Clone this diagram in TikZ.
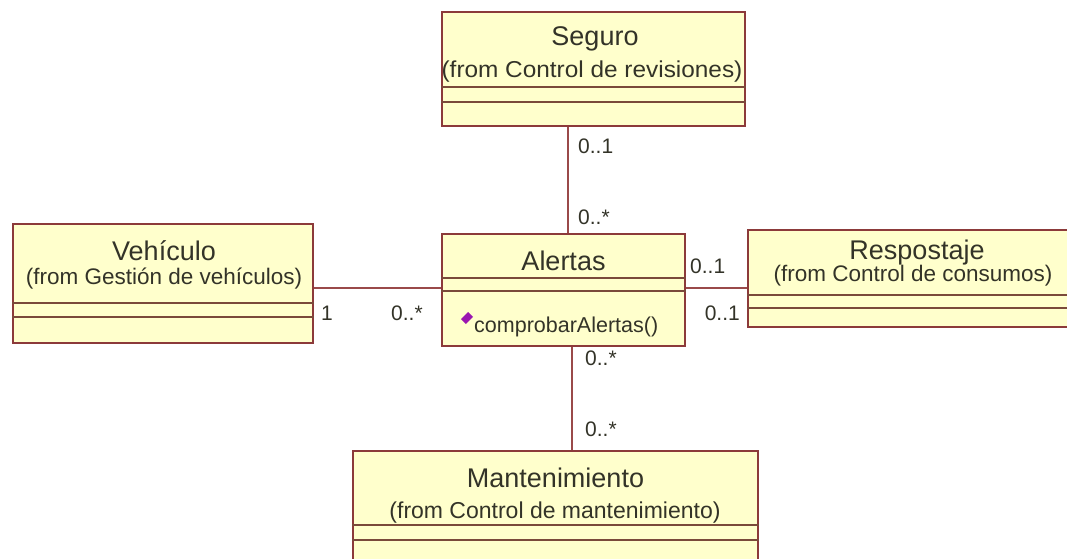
\documentclass[tikz,border=0pt]{standalone}
\usepackage{fontspec}
\setmainfont{Liberation Sans}
\newfontfamily\subwide[FakeStretch=1.06]{Liberation Sans}
\definecolor{boxfill}{HTML}{FFFFCC}
\definecolor{boxline}{HTML}{8C3A3A}
\definecolor{sepline}{HTML}{7A4A3A}
\definecolor{txt}{HTML}{333328}
\definecolor{linkcol}{HTML}{9A4A4A}
\definecolor{opcol}{HTML}{9A16B0}
\tikzset{
  cls/.style={draw=boxline, fill=boxfill, line width=1.6pt, rectangle, inner sep=0pt},
  sep/.style={draw=sepline, line width=1.4pt},
  ttl/.style={text=txt, font=\fontsize{27}{30}\selectfont, inner sep=0pt},
  sub/.style={text=txt, font=\fontsize{22.5}{25}\selectfont, inner sep=0pt},
  meth/.style={text=txt, font=\fontsize{21.5}{24}\selectfont, inner sep=0pt},
  mult/.style={text=txt, font=\fontsize{21}{24}\selectfont, inner sep=0pt},
  link/.style={draw=linkcol, line width=1.4pt},
}
\begin{document}
\begin{tikzpicture}[x=1pt,y=-1pt]
\useasboundingbox (0,0) rectangle (1067,558);
\clip (0,0) rectangle (1067,558);
% Seguro
\node[cls, minimum width=303pt, minimum height=114pt] (seg) at (593.5,69) {};
\draw[sep] (seg.west |- 0,87) -- (seg.east |- 0,87);
\draw[sep] (seg.west |- 0,102) -- (seg.east |- 0,102);
\node[ttl] (segt) at (595,39) {Seguro};
\node[sub, font=\subwide\fontsize{23}{25}\selectfont] (segs) at (592,72) {(from Control de revisiones)};
% Vehiculo
\node[cls, minimum width=300pt, minimum height=119pt] (veh) at (163,283.5) {};
\draw[sep] (veh.west |- 0,303) -- (veh.east |- 0,303);
\draw[sep] (veh.west |- 0,317) -- (veh.east |- 0,317);
\node[ttl] (veht) at (164,251) {Vehículo};
\node[sub] (vehs) at (164,279) {(from Gestión de vehículos)};
% Alertas
\node[cls, minimum width=243pt, minimum height=112pt] (al) at (563.5,290) {};
\draw[sep] (al.west |- 0,278) -- (al.east |- 0,278);
\draw[sep] (al.west |- 0,291) -- (al.east |- 0,291);
\node[ttl] (alt) at (563.5,261) {Alertas};
\node[meth, anchor=west] (alm) at (474,327) {comprobarAlertas()};
\node[fill=opcol, rotate=45, minimum width=10pt, minimum height=7pt, inner sep=0pt] (dia) at (467,318) {};
% Respostaje
\node[cls, minimum width=327pt, minimum height=97pt] (res) at (911.5,278.5) {};
\draw[sep] (res.west |- 0,295) -- (res.east |- 0,295);
\draw[sep] (res.west |- 0,308) -- (res.east |- 0,308);
\node[ttl] (rest) at (917,253) {Respostaje};
\node[sub] (ress) at (913,276) {(from Control de consumos)};
% Mantenimiento
\node[cls, minimum width=405pt, minimum height=130pt] (man) at (555.5,516) {};
\draw[sep] (man.west |- 0,525) -- (man.east |- 0,525);
\draw[sep] (man.west |- 0,540) -- (man.east |- 0,540);
\node[ttl] (mant) at (555.5,478) {Mantenimiento};
\node[sub, font=\fontsize{23}{25}\selectfont] (mans) at (555,513) {(from Control de mantenimiento)};
% connectors
\draw[link] (seg.south -| 568,0) -- (al.north -| 568,0);
\draw[link] (veh.east |- 0,288) -- (al.west |- 0,288);
\draw[link] (al.east |- 0,288) -- (res.west |- 0,288);
\draw[link] (al.south -| 572,0) -- (man.north -| 572,0);
% multiplicities
\node[mult, anchor=west] (m1) at (578,146) {0..1};
\node[mult, anchor=west] (m2) at (578,217) {0..*};
\node[mult, anchor=west] (m3) at (321,313) {1};
\node[mult, anchor=west] (m4) at (391,313) {0..*};
\node[mult, anchor=west] (m5) at (690,266) {0..1};
\node[mult, anchor=east] (m6) at (740,313) {0..1};
\node[mult, anchor=west] (m7) at (585,358) {0..*};
\node[mult, anchor=west] (m8) at (585,429) {0..*};
\end{tikzpicture}
\end{document}
